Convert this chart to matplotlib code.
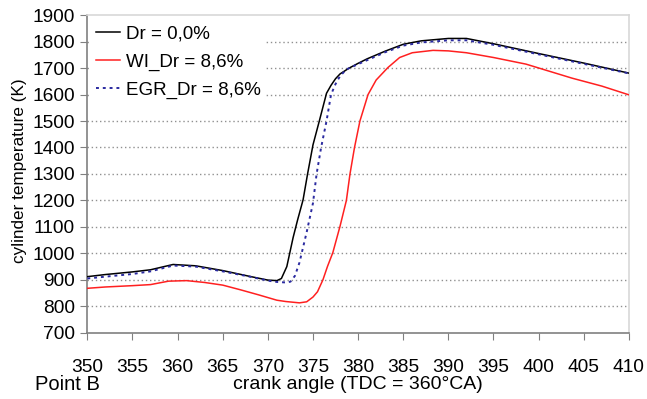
import matplotlib
matplotlib.use("Agg")
import matplotlib.pyplot as plt

plt.rcParams['font.family'] = ['Liberation Sans', 'DejaVu Sans']

# crank angle / temperature readings for each case
angle_ref = [350, 352, 355, 357, 359.5, 362, 365, 368, 370, 371, 371.5, 372.1, 372.8,
             373.3, 373.9, 374.4, 375, 375.7, 376.5, 377, 377.5, 378, 379, 380, 381,
             383, 385, 387, 390, 392, 395, 400, 405, 410]
temp_ref = [912, 920, 930, 938, 958, 953, 935, 913, 899, 897, 905, 950, 1060,
            1127, 1202, 1300, 1410, 1500, 1605, 1635, 1660, 1678, 1700, 1718, 1735,
            1764, 1790, 1803, 1812, 1812, 1792, 1755, 1719, 1681]

angle_wi = [350, 352, 355, 357, 359, 361, 363, 365, 367, 369, 370, 371, 372, 373.5,
            374.3, 375, 375.5, 376.1, 376.6, 377.2, 378, 378.7, 379.1, 379.6, 380.2,
            381.1, 382, 383.3, 384.6, 386, 388.3, 390, 392, 395, 398.6, 403.7, 407, 410]
temp_wi = [868, 873, 878, 882, 895, 897, 890, 880, 862, 843, 833, 823, 818, 813,
           817, 835, 855, 900, 950, 1003, 1103, 1200, 1300, 1400, 1500,
           1600, 1655, 1702, 1740, 1758, 1767, 1765, 1758, 1740, 1715, 1662, 1632, 1599]

angle_egr = [350, 352, 355, 357, 359.5, 362, 365, 368, 370, 371, 372, 372.5, 373,
             373.5, 374.3, 375, 375.4, 375.9, 376.5, 377, 377.5, 378, 378.7, 380,
             383, 385, 387, 390, 392, 395, 400, 405, 410]
temp_egr = [905, 912, 922, 932, 954, 950, 932, 912, 897, 892, 890, 893, 915,
            965, 1080, 1190, 1300, 1400, 1500, 1600, 1640, 1670, 1695, 1715,
            1760, 1785, 1797, 1805, 1805, 1788, 1752, 1716, 1680]

x_ticks = list(range(350, 411, 5))
y_ticks = list(range(700, 1901, 100))

fig = plt.figure(figsize=(6.47, 3.99), dpi=100)
ax = fig.add_axes([0.135, 0.166, 0.837, 0.796])

# dotted horizontal grid
for yv in y_ticks[1:-1]:
    ax.axhline(yv, color='#909090', linestyle=(0, (1, 2)), linewidth=1.0, zorder=1)

ax.plot(angle_ref, temp_ref, color='black', linewidth=1.1, label='Dr = 0,0%', zorder=3)
ax.plot(angle_wi, temp_wi, color='#ff2020', linewidth=1.1, label='WI_Dr = 8,6%', zorder=3)
ax.plot(angle_egr, temp_egr, color='#2a2aa0', linewidth=1.4, linestyle=(0, (1.5, 2)),
        label='EGR_Dr = 8,6%', zorder=4)

ax.set_xlim(350, 410)
ax.set_ylim(700, 1900)
ax.set_xticks(x_ticks)
ax.set_yticks(y_ticks)
ax.tick_params(labelsize=13.8, length=5, color='#808080')
ax.tick_params(axis='x', pad=14)
ax.tick_params(axis='y', pad=4)

for s in ['left', 'bottom']:
    ax.spines[s].set_color('#808080')
    ax.spines[s].set_linewidth(1.2)
for s in ['top', 'right']:
    ax.spines[s].set_color('#d8d8d8')
    ax.spines[s].set_linewidth(1.2)

ax.set_ylabel('cylinder temperature (K)', fontsize=12.3)
ax.yaxis.set_label_coords(-0.112, 0.51)
ax.set_xlabel('crank angle (TDC = 360°CA)', fontsize=14, labelpad=0)
fig.text(0.054, 0.037, 'Point B', fontsize=14.5, va='center')

leg = ax.legend(loc='upper left', bbox_to_anchor=(0.005, 0.985), fontsize=13.5,
                frameon=True, handlelength=1.3, handletextpad=0.3, labelspacing=0.58,
                borderaxespad=0.0, borderpad=0.3, fancybox=False, edgecolor='none',
                facecolor='white', framealpha=1)
leg.set_zorder(5)

fig.savefig('out.png', dpi=100)
